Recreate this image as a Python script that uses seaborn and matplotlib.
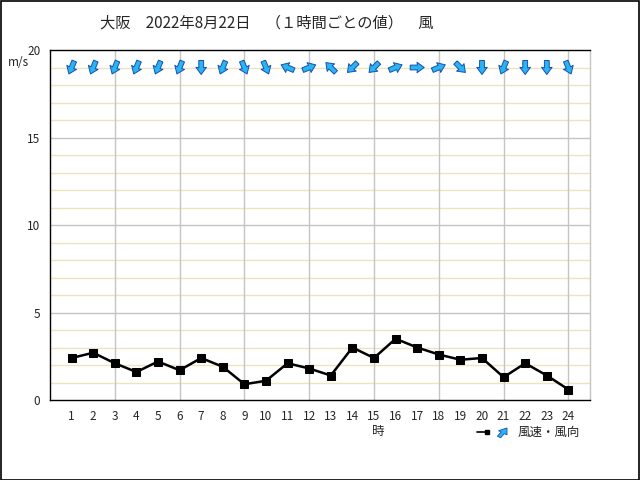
import matplotlib
import matplotlib.pyplot as plt
import numpy as np
import pandas as pd
import seaborn as sns
from matplotlib.lines import Line2D
from matplotlib.patches import FancyArrow, Rectangle

matplotlib.use("Agg")

# hourly values, Osaka 2022-08-22
hours = list(range(1, 25))
speed = [2.4, 2.7, 2.1, 1.6, 2.2, 1.7, 2.4, 1.9, 0.9, 1.1, 2.1, 1.8,
         1.4, 3.0, 2.4, 3.5, 3.0, 2.6, 2.3, 2.4, 1.3, 2.1, 1.4, 0.6]
# direction the wind blows from
direction = ["NNE", "NNE", "NNE", "NNE", "NNE", "NNE", "N", "NNE", "NNW", "NNW", "ESE", "WSW",
             "SE", "NE", "NE", "WSW", "W", "WSW", "NW", "N", "NNE", "N", "N", "NNW"]
compass = ["N", "NNE", "NE", "ENE", "E", "ESE", "SE", "SSE",
           "S", "SSW", "SW", "WSW", "W", "WNW", "NW", "NNW"]

df = pd.DataFrame({"hour": hours, "speed": speed, "dir": direction})
deg = np.deg2rad(df["dir"].map(lambda d: compass.index(d) * 22.5).to_numpy())
df["u"] = -np.sin(deg) * 14
df["v"] = -np.cos(deg) * 14

sns.set_theme(style="white")
plt.rcParams["font.family"] = ["Noto Sans CJK JP", "DejaVu Sans"]

fig = plt.figure(figsize=(6.4, 4.8), dpi=100)
ax = fig.add_axes([50 / 640, 80 / 480, 540 / 640, 350 / 480])

for y in range(1, 20):
    ax.axhline(y, color="#eee2bf" if y % 5 else "#c4c4c4", lw=1, zorder=0)
for x in range(3, 25, 3):
    ax.axvline(x, color="#c4c4c4", lw=1, zorder=0)

sns.lineplot(data=df, x="hour", y="speed", marker="s", markersize=5.5, color="black",
             linewidth=1.8, markeredgecolor="black", ax=ax, zorder=3)

ax.quiver(df["hour"], np.full(len(df), 19.0), df["u"], df["v"], pivot="middle",
          angles="uv", units="dots", scale_units="dots", scale=1, width=4.8,
          headwidth=2.2, headlength=1.5, headaxislength=1.4,
          facecolor="#2ab4f0", edgecolor="#1450b4", linewidth=0.7, zorder=4)

ax.set_xlim(0, 25)
ax.set_ylim(0, 20)
ax.set_xticks(hours)
ax.set_yticks([0, 5, 10, 15, 20])
ax.tick_params(length=0, labelsize=8.5, pad=7)
ax.set_xlabel("")
ax.set_ylabel("")
for side in ["left", "bottom", "top"]:
    ax.spines[side].set_color("black")
    ax.spines[side].set_linewidth(1)
ax.spines["right"].set_edgecolor("#c4c4c4")
ax.spines["right"].set_linewidth(1)

fig.text(100 / 640, 1 - 23 / 480, "大阪　2022年8月22日　（１時間ごとの値）　風",
         fontsize=11, ha="left", va="center")
fig.text(8 / 640, 1 - 62 / 480, "m/s", fontsize=8.5, ha="left", va="center")
fig.text(378 / 640, 1 - 432 / 480, "時", fontsize=9, ha="center", va="center")

# legend
fig.add_artist(Line2D([477 / 640, 487 / 640], [1 - 432 / 480] * 2, color="black", lw=1.2,
                      marker="s", markersize=2.5, markevery=[1], transform=fig.transFigure))
fig.add_artist(FancyArrow(499 / 640, 1 - 437 / 480, 8 / 640, 9 / 480, width=0.006,
                          head_width=0.016, head_length=0.012, length_includes_head=True,
                          facecolor="#2ab4f0", edgecolor="#1450b4", lw=0.6,
                          transform=fig.transFigure))
fig.text(518 / 640, 1 - 432 / 480, "風速・風向", fontsize=9, ha="left", va="center")

fig.add_artist(Rectangle((0.001, 0.001), 0.997, 0.997, fill=False, edgecolor="black",
                         lw=1.2, transform=fig.transFigure))

fig.savefig("out.png", dpi=100)
